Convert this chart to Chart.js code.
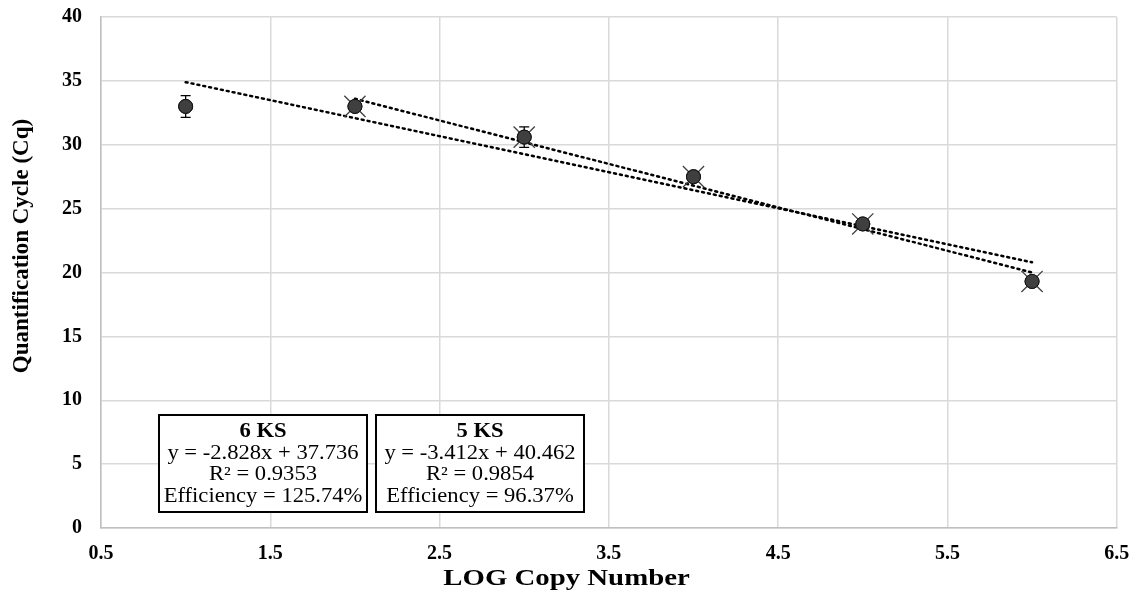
<!DOCTYPE html>
<html>
<head>
<meta charset="utf-8">
<script src="https://cdn.jsdelivr.net/npm/chart.js@4.4.0/dist/chart.umd.min.js"></script>
<style>
  html, body { margin: 0; padding: 0; background: #fff; }
  #wrap { width: 1133px; height: 598px; }
</style>
</head>
<body>
<div id="wrap"><canvas id="grafico"></canvas></div>
<script>
// data
const logCopies = [1, 2, 3, 4, 5, 6];
const cq6 = [33.0, 33.0, 30.6, 27.5, 23.8, 19.3];
const cqErr6 = [0.85, 0.3, 0.8, 0.4, 0.3, 0.3];
const logCopies5 = [2, 3, 4, 5, 6];
const cq5 = [33.0, 30.6, 27.5, 23.8, 19.3];
const trendX6 = [1, 6];
const trendY6 = [34.9, 20.8];
const trendX5 = [2, 6];
const trendY5 = [33.6, 20.0];
const xTicks = [0.5, 1.5, 2.5, 3.5, 4.5, 5.5, 6.5];
const xTitle = 'LOG Copy Number';
const yTitle = 'Quantification Cycle (Cq)';
const boxes = [
  ['6 KS', 'y = -2.828x + 37.736', 'R² = 0.9353', 'Efficiency = 125.74%'],
  ['5 KS', 'y = -3.412x + 40.462', 'R² = 0.9854', 'Efficiency = 96.37%']
];

const toPts = (xs, ys) => xs.map((x, i) => ({x: x, y: ys[i]}));
const serif = '"Liberation Serif", "Times New Roman", serif';

const errorBars = {
  id: 'errorBars',
  afterDatasetsDraw(chart) {
    const ctx = chart.ctx;
    const xs = chart.scales.x, ys = chart.scales.y;
    ctx.save();
    ctx.strokeStyle = '#000';
    ctx.lineWidth = 1.3;
    logCopies.forEach((x, i) => {
      const px = xs.getPixelForValue(x);
      const top = ys.getPixelForValue(cq6[i] + cqErr6[i]);
      const bot = ys.getPixelForValue(cq6[i] - cqErr6[i]);
      ctx.beginPath();
      ctx.moveTo(px, top); ctx.lineTo(px, bot);
      ctx.moveTo(px - 5, top); ctx.lineTo(px + 5, top);
      ctx.moveTo(px - 5, bot); ctx.lineTo(px + 5, bot);
      ctx.stroke();
    });
    // circles over the error stems
    ctx.fillStyle = '#3f3f3f';
    ctx.strokeStyle = '#111';
    ctx.lineWidth = 1;
    logCopies.forEach((x, i) => {
      ctx.beginPath();
      ctx.arc(xs.getPixelForValue(x), ys.getPixelForValue(cq6[i]), 7, 0, Math.PI * 2);
      ctx.fill(); ctx.stroke();
    });
    ctx.restore();
  }
};

const textBoxes = {
  id: 'textBoxes',
  afterDraw(chart) {
    const ctx = chart.ctx;
    const a = chart.chartArea;
    const lefts = [a.left + 58, a.left + 275];
    const w = 208, top = 415, h = 97;
    ctx.save();
    boxes.forEach((lines, b) => {
      const x0 = lefts[b];
      ctx.fillStyle = '#fff';
      ctx.fillRect(x0, top, w, h);
      ctx.strokeStyle = '#000';
      ctx.lineWidth = 2;
      ctx.strokeRect(x0, top, w, h);
      ctx.fillStyle = '#000';
      ctx.textAlign = 'center';
      ctx.textBaseline = 'middle';
      lines.forEach((t, i) => {
        ctx.font = (i === 0 ? 'bold ' : '') + '20px ' + serif;
        ctx.save();
        ctx.translate(x0 + w / 2, top + 17 + i * 21.5);
        ctx.scale(1.13, 1);
        ctx.fillText(t, 0, 0);
        ctx.restore();
      });
    });

    // axis titles, centred like the original
    ctx.fillStyle = '#000';
    ctx.textAlign = 'center';
    ctx.textBaseline = 'middle';
    ctx.font = 'bold 24px ' + serif;
    ctx.save();
    ctx.translate(chart.width / 2, 579);
    ctx.scale(1.2, 1);
    ctx.fillText(xTitle, 0, 0);
    ctx.restore();
    ctx.font = 'bold 23px ' + serif;
    ctx.save();
    ctx.translate(22, 246);
    ctx.rotate(-Math.PI / 2);
    ctx.fillText(yTitle, 0, 0);
    ctx.restore();
    ctx.restore();
  }
};

new Chart(document.getElementById('grafico'), {
  type: 'scatter',
  data: {
    datasets: [
      {
        label: '6 KS',
        data: toPts(logCopies, cq6),
        pointStyle: 'circle',
        pointRadius: 7,
        backgroundColor: '#3f3f3f',
        borderColor: '#111',
        borderWidth: 1
      },
      {
        label: '5 KS',
        data: toPts(logCopies5, cq5),
        pointStyle: 'crossRot',
        pointRadius: 15,
        borderColor: '#404040',
        borderWidth: 1.3,
        backgroundColor: 'transparent'
      },
      {
        label: 'Trend 6 KS',
        data: toPts(trendX6, trendY6),
        showLine: true,
        pointRadius: 0,
        borderColor: '#000',
        borderWidth: 2.5,
        borderDash: [2, 4],
        borderCapStyle: 'round'
      },
      {
        label: 'Trend 5 KS',
        data: toPts(trendX5, trendY5),
        showLine: true,
        pointRadius: 0,
        borderColor: '#000',
        borderWidth: 2.5,
        borderDash: [2, 4],
        borderCapStyle: 'round'
      }
    ]
  },
  options: {
    responsive: true,
    maintainAspectRatio: false,
    animation: false,
    layout: { padding: { top: 17, right: 16, left: 0, bottom: 0 } },
    plugins: {
      legend: { display: false },
      tooltip: { enabled: false }
    },
    scales: {
      x: {
        type: 'linear',
        min: 0.5,
        max: 6.5,
        afterBuildTicks(scale) { scale.ticks = xTicks.map(v => ({value: v})); },
        afterFit(scale) {
          scale.height = 70;
          scale.paddingLeft = 0;
          scale.paddingRight = 0;
        },
        grid: { color: '#d9d9d9', lineWidth: 1.5, drawTicks: false },
        border: { color: '#bfbfbf', width: 1.5 },
        ticks: {
          color: '#000',
          padding: 14,
          font: { family: serif, size: 20, weight: 'bold' },
          callback: v => v.toFixed(1)
        }
      },
      y: {
        min: 0,
        max: 40,
        afterFit(scale) {
          scale.width = 101;
          scale.paddingTop = 0;
          scale.paddingBottom = 0;
        },
        grid: { color: '#d9d9d9', lineWidth: 1.5, drawTicks: false },
        border: { color: '#bfbfbf', width: 1.5 },
        ticks: {
          stepSize: 5,
          color: '#000',
          padding: 19,
          font: { family: serif, size: 20, weight: 'bold' }
        }
      }
    }
  },
  plugins: [errorBars, textBoxes]
});
</script>
</body>
</html>
